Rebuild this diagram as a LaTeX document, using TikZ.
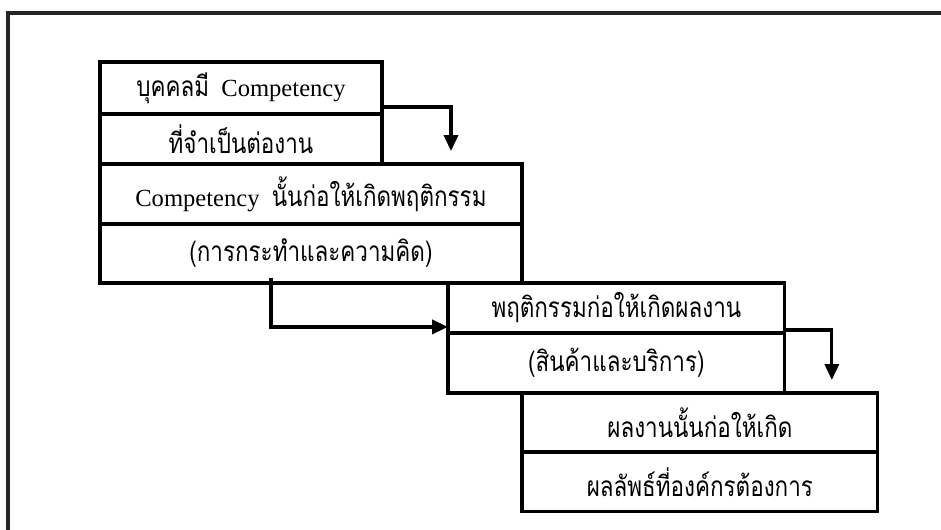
\documentclass[tikz,border=0pt]{standalone}
\usepackage{fontspec}
\setmainfont{Liberation Serif}
\newfontfamily\thai[Script=Thai,FakeStretch=0.8,Scale=1.14]{Loma}
\usetikzlibrary{arrows.meta,positioning,calc}
\tikzset{
  row/.style={draw=black,fill=white,line width=1.8pt,inner sep=0pt,outer sep=0pt,align=center,font=\fontsize{14}{16}\selectfont},
  flow/.style={-{Triangle[length=9pt,width=8pt]},draw=black,line width=1.8pt},
  frameline/.style={draw=black!85,line width=2pt}
}
\begin{document}
\begin{tikzpicture}[x=0.02cm,y=-0.02cm,node distance=0pt]
      \useasboundingbox (0,0) rectangle (941,530);
      \draw[frameline] (8,530) -- (8,13) -- (941,13);
      \node[row,minimum width=5.64cm,minimum height=1.04cm,anchor=north west] (person1) at (100,62) {{\thai บุคคลมี}\hspace{0.5em}Competency};
      \node[row,minimum width=5.64cm,minimum height=1cm,below=of person1] (person2) {\thai ที่จำเป็นต่องาน};
      \node[row,minimum width=8.44cm,minimum height=1.2cm,anchor=north west] (behave1) at (person2.south west) {Competency\hspace{0.5em}{\thai นั้นก่อให้เกิดพฤติกรรม}};
      \node[row,minimum width=8.44cm,minimum height=1.18cm,below=of behave1] (behave2) {\thai (การกระทำและความคิด)};
      \node[row,minimum width=6.74cm,minimum height=1cm,anchor=north west] (work1) at ([xshift=6.96cm]behave2.south west) {\thai พฤติกรรมก่อให้เกิดผลงาน};
      \node[row,minimum width=6.74cm,minimum height=1.2cm,below=of work1] (work2) {\thai (สินค้าและบริการ)};
      \node[row,minimum width=7.12cm,minimum height=1.18cm,anchor=north west] (result1) at (work2.south west -| behave2.east) {\thai ผลงานนั้นก่อให้เกิด};
      \node[row,minimum width=7.12cm,minimum height=1.2cm,below=of result1] (result2) {\thai ผลลัพธ์ที่องค์กรต้องการ};
      \draw[flow] ($(person1.south east)+(0,-7)$) -| ($(behave1.north west)+(351,-13)$);
      \draw[flow] ($(behave2.south west)+(171,-5)$) |- ($(work1.south west)+(0,-6)$);
      \draw[flow] ($(work1.south east)+(0,-3)$) -| ($(result1.north east)+(-46,-13)$);
    \end{tikzpicture}
\end{document}
